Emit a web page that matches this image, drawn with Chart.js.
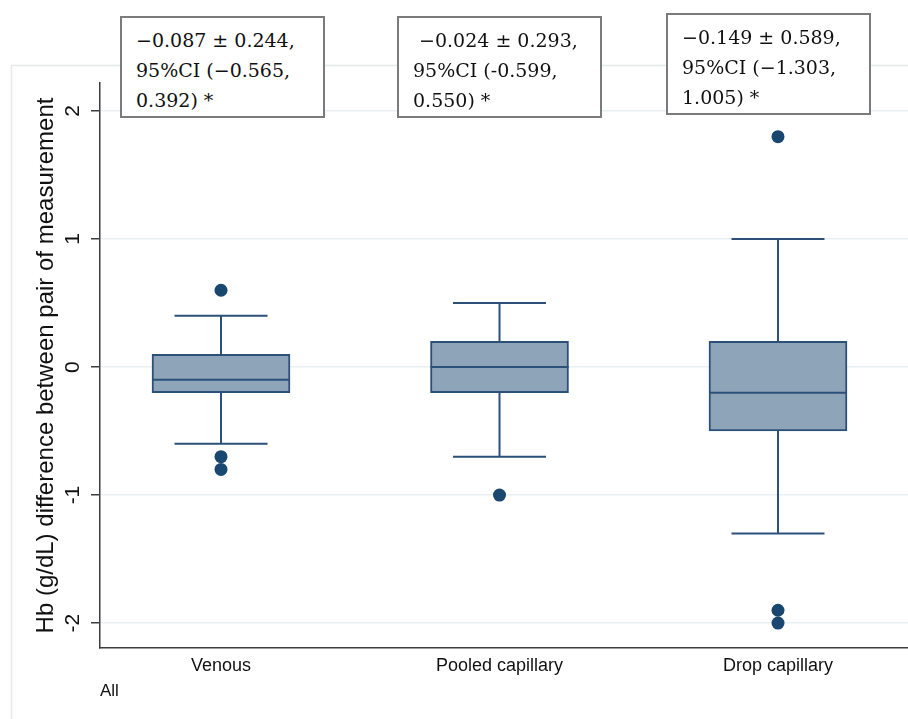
<!DOCTYPE html>
<html>
<head>
<meta charset="utf-8">
<script src="https://cdn.jsdelivr.net/npm/chart.js@4"></script>
<style>
  body { margin: 0; background: #fff; }
  #wrap { position: relative; width: 908px; height: 719px; }
  .note {
    position: absolute;
    box-sizing: border-box;
    width: 205px;
    height: 102px;
    background: #fff;
    border: 2px solid #7b7b7b;
    padding: 7px 0 0 14px;
    font-family: "DejaVu Serif", serif;
    font-size: 19px;
    line-height: 30px;
    color: #111;
    white-space: pre;
  }
</style>
</head>
<body>
<div id="wrap">
  <canvas id="myChart"></canvas>
</div>
<script>
const categories = ['Venous', 'Pooled capillary', 'Drop capillary'];
const q1 = [-0.2, -0.2, -0.5];
const median = [-0.1, 0, -0.2];
const q3 = [0.1, 0.2, 0.2];
const whiskerLow = [-0.6, -0.7, -1.3];
const whiskerHigh = [0.4, 0.5, 1.0];
const outliers = [[0.6, -0.7, -0.8], [-1.0], [1.8, -1.9, -2.0]];
const yTicks = [-2, -1, 0, 1, 2];
const notes = [
    ['\u22120.087 \u00b1 0.244,', '95%CI (\u22120.565,', '0.392) *'],
    [' \u22120.024 \u00b1 0.293,', '95%CI (-0.599,', '0.550) *'],
    ['\u22120.149 \u00b1 0.589,', '95%CI (\u22121.303,', '1.005) *']
];
const notePos = [[120, 16], [397, 16], [666, 13]];

const LINE = '#2c5179';
const FILL = '#8ea4b8';
const DOT = '#1a476f';

// light frame round the plot region
const frame = {
    id: 'frame',
    beforeDraw(chart) {
        const ctx = chart.ctx;
        ctx.save();
        ctx.strokeStyle = '#e3ebec';
        ctx.lineWidth = 1.5;
        ctx.strokeRect(11.5, 65.5, 1000, 1000);
        ctx.restore();
    }
};

// whiskers, caps and median lines of each box
const boxWhiskers = {
    id: 'boxWhiskers',
    afterDatasetsDraw(chart) {
        const {ctx, scales: {x, y}} = chart;
        const boxes = chart.getDatasetMeta(0).data;
        ctx.save();
        ctx.strokeStyle = LINE;
        ctx.lineWidth = 2;
        categories.forEach((c, i) => {
            const cx = x.getPixelForValue(i + 1);
            const half = boxes[i].width / 2;
            const cap = 46.5;
            ctx.beginPath();
            ctx.moveTo(cx, y.getPixelForValue(q3[i]));
            ctx.lineTo(cx, y.getPixelForValue(whiskerHigh[i]));
            ctx.moveTo(cx, y.getPixelForValue(q1[i]));
            ctx.lineTo(cx, y.getPixelForValue(whiskerLow[i]));
            ctx.moveTo(cx - cap, y.getPixelForValue(whiskerHigh[i]));
            ctx.lineTo(cx + cap, y.getPixelForValue(whiskerHigh[i]));
            ctx.moveTo(cx - cap, y.getPixelForValue(whiskerLow[i]));
            ctx.lineTo(cx + cap, y.getPixelForValue(whiskerLow[i]));
            ctx.moveTo(cx - half, y.getPixelForValue(median[i]));
            ctx.lineTo(cx + half, y.getPixelForValue(median[i]));
            ctx.stroke();
        });
        ctx.restore();
    }
};

function renderChart() {
    const ctx = document.getElementById('myChart');
    const boxData = categories.map((c, i) => ({x: i + 1, y: [q1[i], q3[i]]}));
    const dotData = [];
    outliers.forEach((list, i) => list.forEach(v => dotData.push({x: i + 1, y: v})));

    return new Chart(ctx, {
        type: 'bar',
        data: {
            datasets: [
                {
                    type: 'bar',
                    data: boxData,
                    backgroundColor: FILL,
                    borderColor: LINE,
                    borderWidth: 2,
                    borderSkipped: false,
                    barThickness: 138
                },
                {
                    type: 'scatter',
                    data: dotData,
                    backgroundColor: DOT,
                    borderWidth: 0,
                    pointRadius: 6.5
                }
            ]
        },
        options: {
            responsive: true,
            maintainAspectRatio: false,
            animation: false,
            layout: {autoPadding: false, padding: {left: 20, right: 0, top: 83, bottom: 0}},
            plugins: {legend: {display: false}, tooltip: {enabled: false}},
            scales: {
                x: {
                    type: 'linear',
                    offset: false,
                    min: 0.5655,
                    max: 3.4668,
                    afterBuildTicks: s => { s.ticks = categories.map((c, i) => ({value: i + 1})); },
                    afterFit: s => { s.height = 71; },
                    grid: {display: false, drawTicks: false, offset: false},
                    border: {display: true, color: '#3d3d3d', width: 1.5},
                    ticks: {
                        padding: 7,
                        color: '#111',
                        font: {family: 'Liberation Sans', size: 18},
                        callback: v => categories[v - 1]
                    },
                    title: {
                        display: true,
                        text: 'All',
                        align: 'start',
                        color: '#111',
                        font: {family: 'Liberation Sans', size: 17},
                        padding: {top: 0, bottom: 17}
                    }
                },
                y: {
                    min: -2.195,
                    max: 2.219,
                    afterBuildTicks: s => { s.ticks = yTicks.map(v => ({value: v})); },
                    afterFit: s => { s.width = 80; },
                    grid: {color: '#e9f0f1', lineWidth: 1.5, tickLength: 9, tickColor: '#3d3d3d', tickWidth: 1.5},
                    border: {display: true, color: '#3d3d3d', width: 1.5},
                    ticks: {
                        minRotation: 90,
                        maxRotation: 90,
                        crossAlign: 'center',
                        padding: 8,
                        color: '#111',
                        font: {family: 'Liberation Sans', size: 21}
                    },
                    title: {
                        display: true,
                        text: 'Hb (g/dL) difference between pair of measurement',
                        color: '#111',
                        font: {family: 'Liberation Sans', size: 24},
                        padding: {top: 12, bottom: 0}
                    }
                }
            }
        },
        plugins: [frame, boxWhiskers]
    });
}

function addNotes() {
    const wrap = document.getElementById('wrap');
    notes.forEach((lines, i) => {
        const div = document.createElement('div');
        div.className = 'note';
        div.style.left = notePos[i][0] + 'px';
        div.style.top = notePos[i][1] + 'px';
        div.textContent = lines.join('\n');
        wrap.appendChild(div);
    });
}

renderChart();
addNotes();
</script>
</body>
</html>
